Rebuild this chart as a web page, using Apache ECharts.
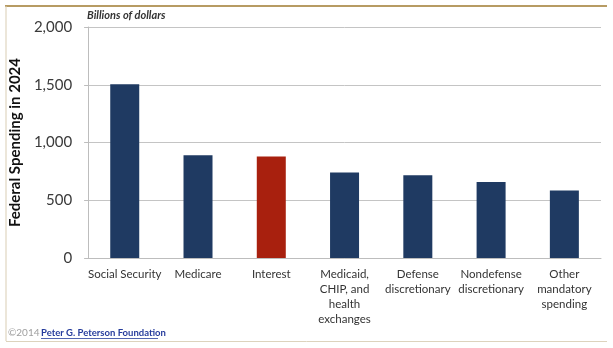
<!DOCTYPE html>
<html>
<head>
<meta charset="utf-8">
<script src="https://cdn.jsdelivr.net/npm/echarts@6/dist/echarts.min.js"></script>
<style>
  html, body { margin: 0; padding: 0; background: #ffffff; }
  #chart { width: 613px; height: 348px; }
</style>
</head>
<body>
<div id="chart"></div>
<script>
// Federal spending by category, 2024 (billions of dollars)
const categories = [
  'Social Security',
  'Medicare',
  'Interest',
  'Medicaid,\nCHIP, and\nhealth\nexchanges',
  'Defense\ndiscretionary',
  'Nondefense\ndiscretionary',
  'Other\nmandatory\nspending'
];
const spending = [1505, 890, 878, 740, 717, 658, 585];
const highlightCategory = 'Interest';
const yTicks = [0, 500, 1000, 1500, 2000];

const NAVY = '#1f3a62';
const RED = '#a8200e';
const FONT = 'Lato, "Liberation Sans", sans-serif';

const chart = echarts.init(document.getElementById('chart'), null, { renderer: 'canvas' });

chart.setOption({
  animation: false,
  backgroundColor: '#ffffff',
  grid: { left: 82, right: 12, top: 27, bottom: 90, containLabel: false },
  xAxis: {
    type: 'category',
    data: categories,
    axisLine: { show: true, lineStyle: { color: '#bdbdbd', width: 1 } },
    axisTick: { show: false },
    axisLabel: {
      interval: 0,
      margin: 9,
      color: '#333333',
      fontFamily: FONT,
      fontSize: 11.5,
      lineHeight: 15,
      align: 'center'
    }
  },
  yAxis: {
    type: 'value',
    min: yTicks[0],
    max: yTicks[yTicks.length - 1],
    interval: yTicks[1] - yTicks[0],
    name: 'Federal Spending in 2024',
    nameLocation: 'middle',
    nameGap: 62,
    nameRotate: 90,
    nameTextStyle: { color: '#111111', fontFamily: FONT, fontSize: 15, fontWeight: 'bold' },
    axisLine: { show: true, lineStyle: { color: '#bdbdbd', width: 1 } },
    axisTick: { show: true, length: 4, lineStyle: { color: '#bdbdbd' } },
    splitLine: { show: true, lineStyle: { color: '#c4c4c4', width: 1 } },
    axisLabel: {
      margin: 16,
      color: '#3a3a3a',
      fontFamily: FONT,
      fontSize: 15,
      formatter: v => v.toLocaleString('en-US')
    }
  },
  series: [{
    type: 'bar',
    barWidth: 29,
    data: spending.map((v, i) => ({
      value: v,
      itemStyle: { color: categories[i] === highlightCategory ? RED : NAVY }
    }))
  }],
  graphic: [
    // frame lines
    { type: 'line', shape: { x1: 5, y1: 6, x2: 607, y2: 6 }, style: { stroke: '#b79b63', lineWidth: 2 }, silent: true },
    { type: 'line', shape: { x1: 6, y1: 6, x2: 6, y2: 341 }, style: { stroke: '#d9cdb3', lineWidth: 1 }, silent: true },
    { type: 'line', shape: { x1: 6, y1: 341.5, x2: 607, y2: 341.5 }, style: { stroke: '#ddd3bd', lineWidth: 1 }, silent: true },
    // units note
    {
      type: 'text', left: 87, top: 10,
      style: { text: 'Billions of dollars', fill: '#333333', font: 'italic bold 11px ' + FONT }
    },
    // footer
    {
      type: 'text', left: 8, top: 328,
      style: { text: '©2014', fill: '#a0a0a0', font: '10px ' + FONT }
    },
    {
      type: 'text', left: 41, top: 328,
      style: { text: 'Peter G. Peterson Foundation', fill: '#263c9c', font: 'bold 9.5px ' + FONT }
    },
    { type: 'line', shape: { x1: 41, y1: 338.5, x2: 158, y2: 338.5 }, style: { stroke: '#263c9c', lineWidth: 0.8 }, silent: true }
  ]
});
</script>
</body>
</html>
